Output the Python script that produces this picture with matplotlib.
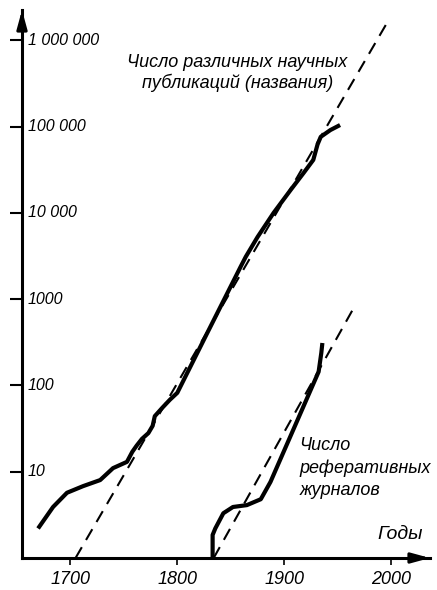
import matplotlib
matplotlib.use("Agg")
import matplotlib.pyplot as plt

# publications curve (year, count)
pub_years = [1670, 1684, 1697, 1712, 1728, 1740, 1753, 1758, 1762, 1767, 1773, 1777,
             1779, 1786, 1793, 1800, 1828, 1859, 1864, 1875, 1890, 1906, 1918,
             1927, 1931, 1934, 1943, 1952]
pub_values = [2.2, 3.9, 5.7, 6.8, 8.0, 11, 13, 17, 20, 24, 28, 34,
              44, 55, 68, 82, 405, 2350, 3100, 5250, 10000, 18500, 29000,
              41000, 62000, 76000, 91000, 104000]

# abstract journals curve
abs_years = [1833, 1833, 1835.5, 1843, 1852, 1865, 1878, 1887, 1932, 1934.5, 1935.5]
abs_values = [1.0, 1.85, 2.2, 3.3, 3.9, 4.1, 4.8, 7.6, 144, 238, 310]

# exponential trend lines
trend1_years = [1705, 1996]
trend1_values = [1, 1.6e6]
trend2_years = [1834, 1965]
trend2_values = [1, 800]

yticks = [10, 100, 1000, 10000, 100000, 1000000]
ytick_labels = ['10', '100', '1000', '10 000', '100 000', '1 000 000']
xticks = [1700, 1800, 1900, 2000]

plt.rcParams['font.family'] = ['Liberation Sans', 'DejaVu Sans']
plt.rcParams['font.style'] = 'italic'

fig = plt.figure(figsize=(4.37, 5.90), dpi=100)
ax = fig.add_axes([22/437, 32/590, 408/437, 548/590])

ax.plot(pub_years, pub_values, color='black', lw=3.0, solid_capstyle='butt')
ax.plot(abs_years, abs_values, color='black', lw=3.0, solid_capstyle='butt')
ax.plot(trend1_years, trend1_values, color='black', lw=1.5, dashes=(6, 4))
ax.plot(trend2_years, trend2_values, color='black', lw=1.5, dashes=(6, 4))

ax.set_yscale('log')
ax.set_xlim(1655, 2036)
ax.set_ylim(1, 10**6.35)
ax.minorticks_off()

for s in ['top', 'right']:
    ax.spines[s].set_visible(False)
ax.spines['left'].set_linewidth(2.2)
ax.spines['bottom'].set_linewidth(2.2)

ax.set_yticks(yticks)
ax.set_yticklabels(ytick_labels)
ax.set_xticks(xticks)
ax.set_xticklabels([str(x) for x in xticks])
ax.tick_params(axis='y', direction='out', length=9, width=1.5, pad=-13, labelsize=11.5)
ax.tick_params(axis='x', direction='out', length=5, width=1.2, pad=4, labelsize=13)
plt.setp(ax.get_yticklabels(), ha='left', va='center')

# arrowheads
ax.annotate('', xy=(1, 0), xycoords='axes fraction', xytext=(0.96, 0),
            arrowprops=dict(arrowstyle='-|>,head_length=1.1,head_width=0.3',
                            color='black', lw=2.2, shrinkA=0, shrinkB=0))
ax.annotate('', xy=(0, 1), xycoords='axes fraction', xytext=(0, 0.97),
            arrowprops=dict(arrowstyle='-|>,head_length=1.1,head_width=0.3',
                            color='black', lw=2.2, shrinkA=0, shrinkB=0))

ax.text(1856, 10**5.62, 'Число различных научных\nпубликаций (названия)',
        ha='center', va='center', fontsize=13, linespacing=1.15)
ax.text(1914, 10**1.04, 'Число\nреферативных\nжурналов',
        ha='left', va='center', fontsize=13, linespacing=1.4)
ax.text(1987, 10**0.27, 'Годы', ha='left', va='center', fontsize=14)

fig.savefig('out.png', dpi=100)
